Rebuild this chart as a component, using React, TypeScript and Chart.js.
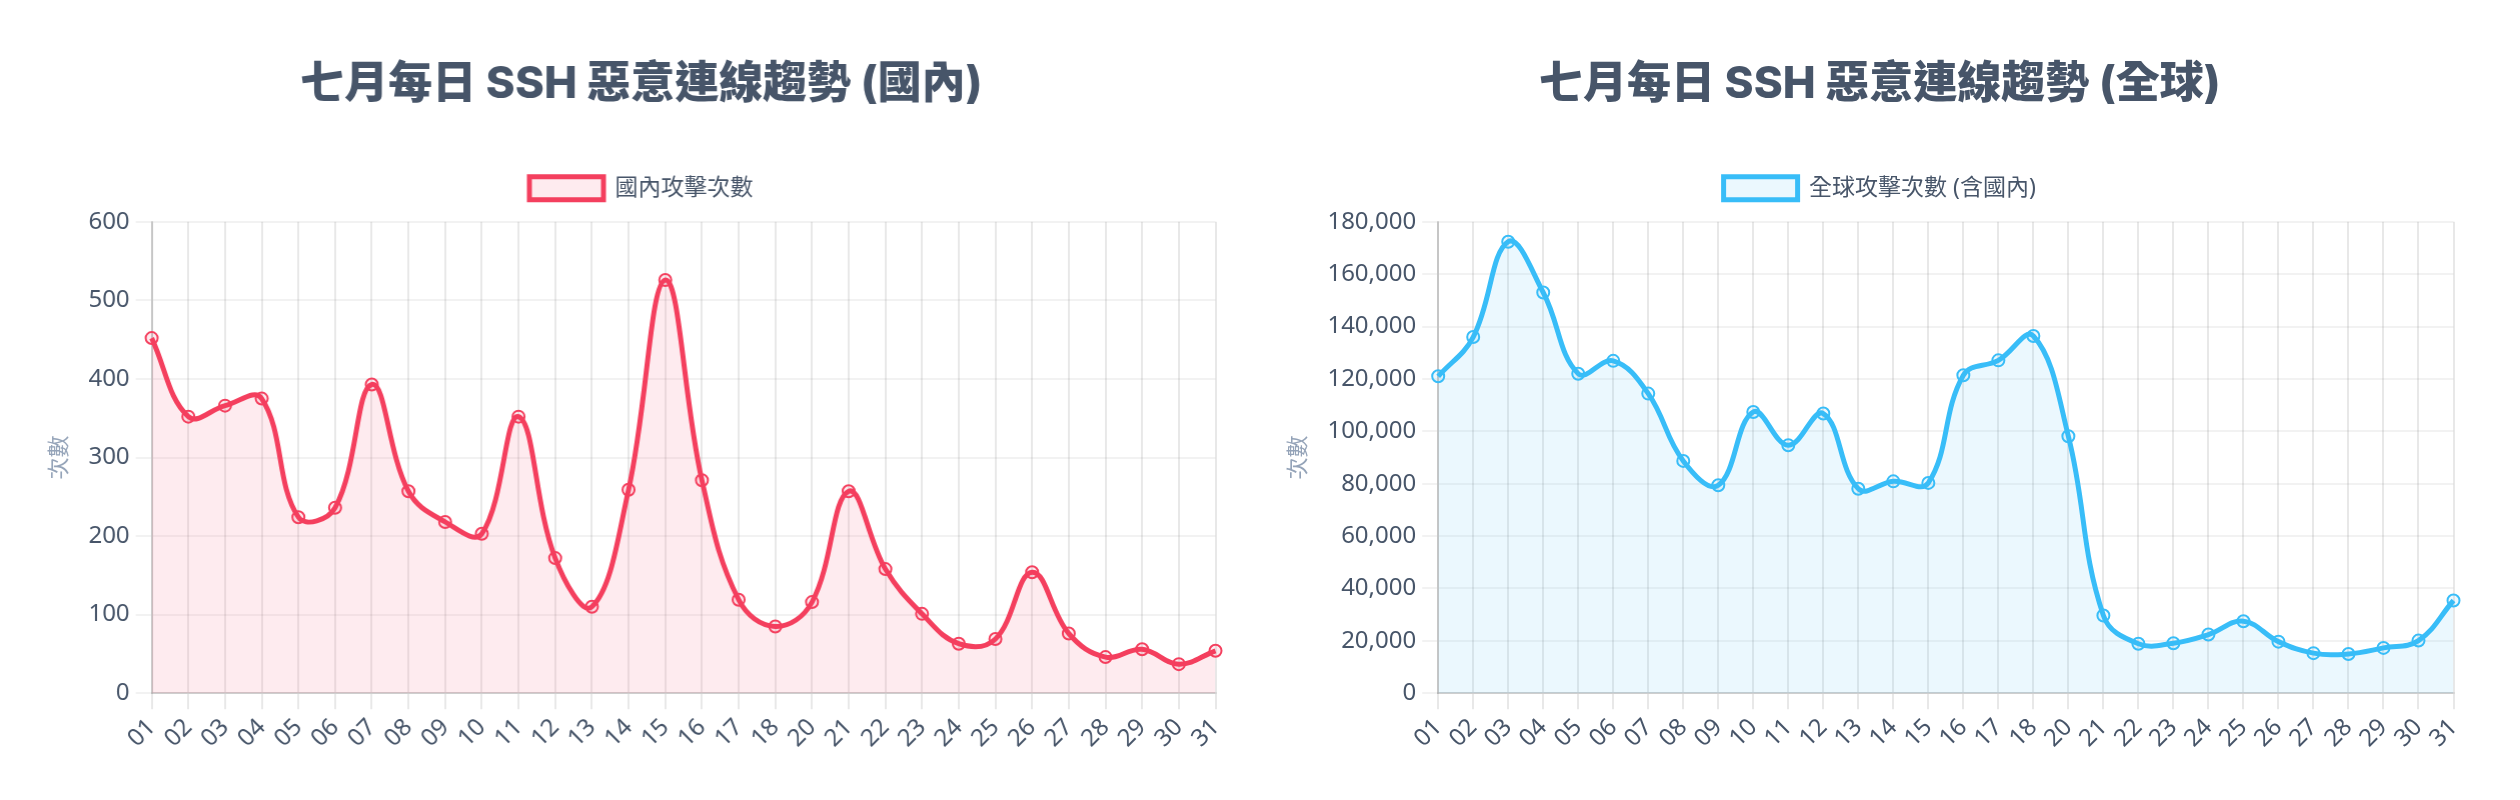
import { Chart, registerables } from 'chart.js';
import { useEffect, useRef } from 'react';

Chart.register(...registerables);

// 七月每日（19 日無資料）
const days = [
  '01', '02', '03', '04', '05', '06', '07', '08', '09', '10',
  '11', '12', '13', '14', '15', '16', '17', '18', '20', '21',
  '22', '23', '24', '25', '26', '27', '28', '29', '30', '31',
];

const domesticAttacks = [
  452, 352, 366, 375, 224, 236, 393, 257, 218, 203,
  352, 172, 110, 259, 526, 271, 119, 85, 116, 257,
  158, 101, 63, 69, 154, 76, 46, 56, 37, 54,
];

const globalAttacks = [
  121000, 136000, 172400, 153000, 122000, 126900, 114400, 88700, 79400, 107400,
  94700, 106800, 78100, 80900, 80300, 121400, 127100, 136400, 98100, 29700,
  18900, 19100, 22400, 27500, 19700, 15300, 15000, 17300, 20100, 35400,
];

const domesticAxis = { max: 600, step: 100 };
const globalAxis = { max: 180000, step: 20000 };

const FONT = "'Noto Sans', 'Noto Sans CJK TC', sans-serif";
const TITLE_FONT = "Inter, 'Noto Sans CJK TC', sans-serif";

// 圖例與圖表區之間多留一點空間
const legendGap = {
  id: 'legendGap',
  beforeInit(chart: any) {
    if (!chart.legend) return;
    const originalFit = chart.legend.fit;
    chart.legend.fit = function fit() {
      originalFit.bind(chart.legend)();
      this.height += 12;
    };
  },
};

interface TrendChartProps {
  title: string;
  label: string;
  values: number[];
  color: string;
  fill: string;
  axis: { max: number; step: number };
}

const TrendChart: React.FC<TrendChartProps> = (props) => {
  const chartRef = useRef<HTMLCanvasElement>(null);
  const chartInstanceRef = useRef<Chart | null>(null);

  useEffect(() => {
    const ctx = chartRef.current!.getContext('2d');
    if (chartInstanceRef.current) {
      chartInstanceRef.current.destroy();
    }
    chartInstanceRef.current = new Chart(ctx!, {
      type: 'line',
      data: {
        labels: days,
        datasets: [
          {
            label: props.label,
            data: props.values,
            borderColor: props.color,
            backgroundColor: props.fill,
            borderWidth: 5,
            fill: true,
            tension: 0.4,
            pointRadius: 6,
            pointBorderWidth: 2,
            pointBackgroundColor: props.fill,
            pointBorderColor: props.color,
          },
        ],
      },
      plugins: [legendGap],
      options: {
        animation: false,
        responsive: true,
        maintainAspectRatio: false,
        plugins: {
          title: {
            display: true,
            text: props.title,
            color: '#475569',
            font: { family: TITLE_FONT, size: 44, weight: 800 },
            padding: { top: 10, bottom: 33 },
          },
          legend: {
            labels: {
              color: '#475569',
              font: { family: FONT, size: 23 },
              boxWidth: 74,
              boxHeight: 23,
              padding: 33,
            },
          },
          tooltip: { enabled: false },
        },
        scales: {
          x: {
            grid: { color: 'rgba(0,0,0,0.09)', lineWidth: 2, tickLength: 16 },
            border: { color: 'rgba(0,0,0,0.15)', width: 2 },
            ticks: {
              color: '#475569',
              font: { family: FONT, size: 24 },
              autoSkip: false,
              minRotation: 45,
              maxRotation: 45,
              padding: 4,
            },
            afterFit: (axis: any) => {
              axis.paddingRight = 28;
            },
          },
          y: {
            beginAtZero: true,
            max: props.axis.max,
            grid: { color: 'rgba(0,0,0,0.05)', lineWidth: 2, tickLength: 16 },
            border: { color: 'rgba(0,0,0,0.15)', width: 2 },
            ticks: {
              stepSize: props.axis.step,
              color: '#475569',
              font: { family: FONT, size: 24 },
              padding: 6,
            },
            title: {
              display: true,
              text: '次數',
              color: '#94a3b8',
              font: { family: FONT, size: 22 },
              padding: { top: 8, bottom: 9 },
            },
          },
        },
      },
    });
    return () => {
      if (chartInstanceRef.current) {
        chartInstanceRef.current.destroy();
        chartInstanceRef.current = null;
      }
    };
  }, [props]);

  return (
    <div style={{ position: 'relative', width: 1204, height: 709 }}>
      <canvas ref={chartRef}></canvas>
    </div>
  );
};

export default function App() {
  return (
    <div style={{ display: 'flex', gap: 35, padding: '40px 31px 0 31px' }}>
      <TrendChart
        title="七月每日 SSH 惡意連線趨勢 (國內)"
        label="國內攻擊次數"
        values={domesticAttacks}
        color="#f43f5e"
        fill="rgba(244, 63, 94, 0.1)"
        axis={domesticAxis}
      />
      <TrendChart
        title="七月每日 SSH 惡意連線趨勢 (全球)"
        label="全球攻擊次數 (含國內)"
        values={globalAttacks}
        color="#38bdf8"
        fill="rgba(56, 189, 248, 0.1)"
        axis={globalAxis}
      />
    </div>
  );
}
